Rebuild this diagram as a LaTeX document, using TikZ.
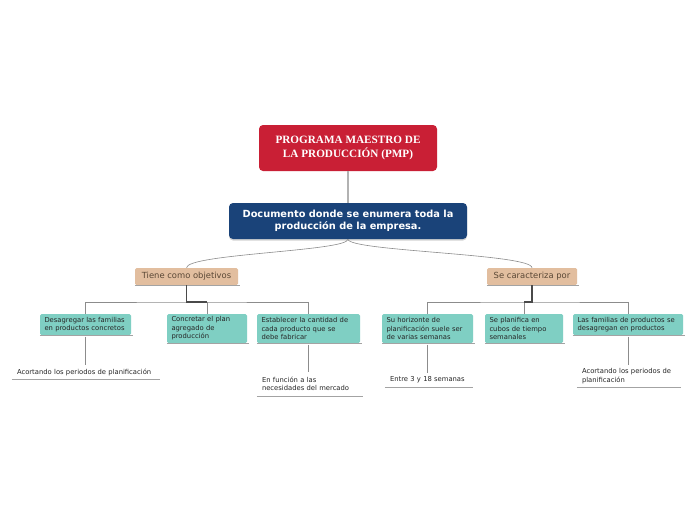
\documentclass[tikz,border=0pt]{standalone}
\usepackage{fontspec}
\setmainfont{DejaVu Sans}
\newfontfamily\titlefont{Liberation Serif}
\usetikzlibrary{positioning, shadows}
\definecolor{pmpRed}{HTML}{C91F35}
\definecolor{pmpBlue}{HTML}{1A4379}
\definecolor{pmpTan}{HTML}{E2BE9F}
\definecolor{pmpTeal}{HTML}{7FCFC3}
\definecolor{pmpLine}{HTML}{8C8C8C}
\definecolor{pmpStem}{HTML}{4A4A4A}
\definecolor{pmpBrown}{HTML}{5A4836}

\tikzset{
  rootbox/.style={fill=pmpRed, rounded corners=4pt, minimum width=178pt, minimum height=46pt,
    align=center, text=white, font=\titlefont\bfseries\fontsize{11.2}{14}\selectfont},
  docbox/.style={fill=pmpBlue, rounded corners=4pt, minimum width=238pt, minimum height=36pt,
    align=center, text=white, font=\bfseries\fontsize{9.8}{11.5}\selectfont,
    drop shadow={opacity=0.35, shadow xshift=0pt, shadow yshift=-1.5pt}},
  labelbox/.style={fill=pmpTan, rounded corners=1.5pt, minimum height=17pt, inner xsep=4pt,
    text=pmpBrown, font=\fontsize{8.4}{10}\selectfont},
  tealbox/.style={fill=pmpTeal, rounded corners=1.5pt, inner xsep=4.5pt, inner ysep=2.5pt,
    align=left, text=black!85, font=\fontsize{6.8}{8.5}\selectfont},
  leaf/.style={inner xsep=5pt, inner ysep=2pt, align=left, text=black!85,
    font=\fontsize{6.8}{8.5}\selectfont},
  underline/.style={pmpLine!80, line width=0.8pt},
  link/.style={pmpLine, line width=0.6pt},
  stem/.style={pmpStem, line width=1.1pt}
}

\begin{document}
\begin{tikzpicture}[x=1pt, y=-1pt]
  \useasboundingbox[fill=white] (0,0) rectangle (696,520);
  % raiz
  \node[rootbox] (pmp) at (348,148) {PROGRAMA MAESTRO DE\\LA PRODUCCIÓN (PMP)};
  \node[docbox] (doc) at (348,221) {Documento donde se enumera toda la\\producción de la empresa.};
  \draw[black!30, line width=1.4pt] (pmp.south) -- (doc.north);
  % ramas
  \node[labelbox, minimum width=103pt] (obj) at (186.5,276.5) {Tiene como objetivos};
  \node[labelbox, minimum width=90pt] (car) at (532,276.5) {Se caracteriza por};
  \draw[link] (doc.south) .. controls +(0,12) and +(0,-14) .. (obj.north);
  \draw[link] (doc.south) .. controls +(0,12) and +(0,-14) .. (car.north);
  % objetivos
  \node[tealbox, text width=82pt, minimum height=21pt] (a1) at (85.5,324.5)
    {Desagregar las familias\\en productos concretos};
  \node[tealbox, text width=71pt, minimum height=29pt] (a2) at (207,328.5)
    {Concretar el plan\\agregado de\\producción};
  \node[tealbox, text width=94pt, minimum height=29pt] (a3) at (308.5,328.5)
    {Establecer la cantidad de\\cada producto que se\\debe fabricar};
  % caracteristicas
  \node[tealbox, text width=82pt, minimum height=29pt] (b1) at (427.5,328.5)
    {Su horizonte de\\planificación suele ser\\de varias semanas};
  \node[tealbox, text width=69pt, minimum height=29pt] (b2) at (524,328.5)
    {Se planifica en\\cubos de tiempo\\semanales};
  \node[tealbox, text width=101pt, minimum height=21pt] (b3) at (628,324.5)
    {Las familias de productos se\\desagregan en productos};
  % hojas
  \node[leaf, text width=136pt, minimum height=14pt] (l1) at (85,372)
    {Acortando los periodos de planificación};
  \node[leaf, text width=94pt, minimum height=24pt] (l3) at (309,384)
    {En función a las\\necesidades del mercado};
  \node[leaf, text width=76pt, minimum height=14pt] (m1) at (428,380)
    {Entre 3 y 18 semanas};
  \node[leaf, text width=92pt, minimum height=22pt] (m3) at (628,376)
    {Acortando los periodos de\\planificación};
  % subrayados
  \foreach \n in {obj, car, a1, a2, a3, b1, b2, b3, l1, l3, m1, m3}
    \draw[underline] ([yshift=-0.5pt]\n.south west) -- ([xshift=1.5pt, yshift=-0.5pt]\n.south east);
  % buses
  \coordinate (objJ) at (186.5,302);
  \coordinate (carJ) at (532,302);
  \draw[link] (a1.north) |- (objJ) -| (a3.north);
  \draw[link] (a2.north) -- (a2.north |- objJ);
  \draw[stem] (obj.south) -- (objJ) -- (a2.north |- objJ);
  \draw[link] (b1.north) |- (carJ) -| (b3.north);
  \draw[link] (b2.north) -- (b2.north |- carJ);
  \draw[stem] (car.south) -- (carJ) -- (b2.north |- carJ);
  % hojas
  \draw[link] ([yshift=-1.5pt]a1.south) -- (a1.south |- l1.north);
  \draw[link] ([yshift=-1.5pt]a3.south) -- (a3.south |- l3.north);
  \draw[link] ([yshift=-1.5pt]b1.south) -- (b1.south |- m1.north);
  \draw[link] ([yshift=-1.5pt]b3.south) -- (b3.south |- m3.north);
\end{tikzpicture}
\end{document}
